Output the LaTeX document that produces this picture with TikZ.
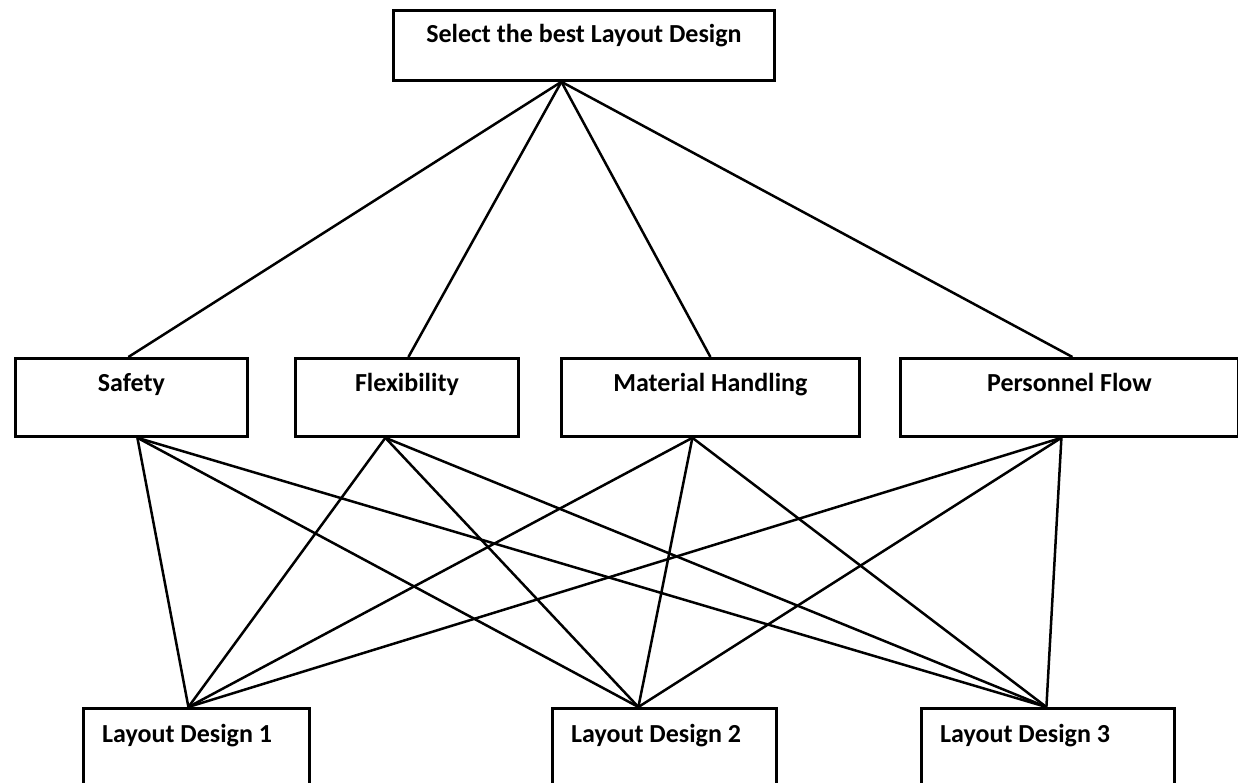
\documentclass[tikz,border=0pt]{standalone}
\usepackage{fontspec}
\setmainfont{Carlito}
\begin{document}
\begin{tikzpicture}[x=1pt,y=-1pt,
  box/.style={draw, line width=2.8pt, inner sep=0pt, anchor=north west},
  lbl/.style={font=\fontsize{26}{30}\selectfont\bfseries, anchor=base, inner sep=0pt},
  conn/.style={line width=2.5pt}]
\useasboundingbox (0,0) rectangle (1238,783);
\clip (0,0) rectangle (1238,783);
% boxes
\node[box, minimum width=381pt, minimum height=70pt] (goal) at (392,9) {};
\node[box, minimum width=232pt, minimum height=78pt] (safety) at (14,357) {};
\node[box, minimum width=223pt, minimum height=78pt] (flex) at (294,357) {};
\node[box, minimum width=298pt, minimum height=78pt] (mat) at (560,357) {};
\node[box, minimum width=338pt, minimum height=78pt] (pers) at (899,357) {};
\node[box, minimum width=226pt, minimum height=100pt] (ld1) at (82,707) {};
\node[box, minimum width=224pt, minimum height=100pt] (ld2) at (551,707) {};
\node[box, minimum width=253pt, minimum height=100pt] (ld3) at (920,707) {};
% labels
\node[lbl] (tgoal) at ([yshift=-34pt]goal.north) {Select the best Layout Design};
\node[lbl] (tsafety) at ([yshift=-34pt]safety.north) {Safety};
\node[lbl] (tflex) at ([yshift=-34pt]flex.north) {Flexibility};
\node[lbl] (tmat) at ([yshift=-34pt]mat.north) {Material Handling};
\node[lbl] (tpers) at ([yshift=-34pt]pers.north) {Personnel Flow};
\node[lbl, anchor=base west] (tld1) at ([xshift=20pt,yshift=-35pt]ld1.north west) {Layout Design 1};
\node[lbl, anchor=base west] (tld2) at ([xshift=20pt,yshift=-35pt]ld2.north west) {Layout Design 2};
\node[lbl, anchor=base west] (tld3) at ([xshift=20pt,yshift=-35pt]ld3.north west) {Layout Design 3};
% connection points
\coordinate (apex) at ([xshift=-22.5pt]goal.south);
\coordinate (sT) at ([xshift=-3pt]safety.north);
\coordinate (fT) at ([xshift=1.5pt]flex.north);
\coordinate (mT) at (mat.north);
\coordinate (pT) at ([xshift=3pt]pers.north);
\coordinate (sB) at ([xshift=6pt]safety.south);
\coordinate (fB) at ([xshift=-21.5pt]flex.south);
\coordinate (mB) at ([xshift=-18pt]mat.south);
\coordinate (pB) at ([xshift=-8pt]pers.south);
\coordinate (d1) at ([xshift=-8pt]ld1.north);
\coordinate (d2) at ([xshift=-26pt]ld2.north);
\coordinate (d3) at ([xshift=-1.5pt]ld3.north);
% connectors
\foreach \t in {sT,fT,mT,pT} \draw[conn] (apex) -- (\t);
\foreach \s in {sB,fB,mB,pB} \foreach \d in {d1,d2,d3} \draw[conn] (\s) -- (\d);
\end{tikzpicture}
\end{document}
